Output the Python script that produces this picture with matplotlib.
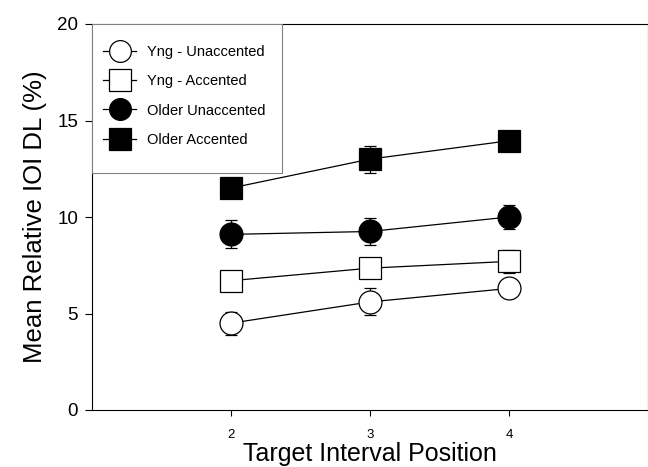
import matplotlib
matplotlib.use("Agg")
import matplotlib.pyplot as plt
from matplotlib.patches import Rectangle

plt.rcParams["font.family"] = ["Liberation Sans", "DejaVu Sans"]

positions = [2, 3, 4]

yng_unacc = [4.5, 5.6, 6.3]
yng_unacc_err = [0.6, 0.7, 0.4]
yng_acc = [6.7, 7.35, 7.7]
yng_acc_err = [0.3, 0.5, 0.6]
old_unacc = [9.1, 9.25, 10.0]
old_unacc_err = [0.73, 0.7, 0.6]
old_acc = [11.5, 13.0, 13.95]
old_acc_err = [0.4, 0.7, 0.4]

series = [
    ("Yng - Unaccented", yng_unacc, yng_unacc_err, "o", "white"),
    ("Yng - Accented", yng_acc, yng_acc_err, "s", "white"),
    ("Older Unaccented", old_unacc, old_unacc_err, "o", "black"),
    ("Older Accented", old_acc, old_acc_err, "s", "black"),
]

fig = plt.figure(figsize=(6.48, 4.67), dpi=100)
ax = fig.add_axes([92 / 648, (467 - 410) / 467, 556 / 648, 386 / 467])

for label, vals, errs, marker, face in series:
    ms = 16.5 if marker == "o" else 16
    ax.errorbar(positions, vals, yerr=errs, color="black", lw=0.9,
                marker=marker, ms=ms, mfc=face, mec="black", mew=0.9,
                capsize=4, capthick=0.9, elinewidth=0.9, label=label)

ax.set_xlim(1, 5)
ax.set_ylim(0, 20)
ax.set_xticks(positions)
ax.set_yticks([0, 5, 10, 15, 20])
ax.tick_params(axis="x", labelsize=9.5, direction="out", length=4, pad=10)
ax.tick_params(axis="y", labelsize=13.5, direction="out", length=5, pad=5)

ax.set_xlabel("Target Interval Position", fontsize=18, labelpad=0.5)
ax.set_ylabel("Mean Relative IOI DL (%)", fontsize=18.5, labelpad=7)

# legend box is taller than the default padding gives, so draw the frame separately
frame = Rectangle((0, 0.614), 0.342, 0.386, transform=ax.transAxes,
                  facecolor="white", edgecolor="gray", lw=0.8, zorder=4)
ax.add_patch(frame)
leg = ax.legend(loc="upper left", bbox_to_anchor=(0, 0.974), borderaxespad=0,
                fontsize=10.5, frameon=False, handlelength=2.3,
                handletextpad=0.7, labelspacing=1.05, borderpad=0.75,
                markerscale=0.95)
leg.set_zorder(5)

fig.savefig("out.png", dpi=100)
